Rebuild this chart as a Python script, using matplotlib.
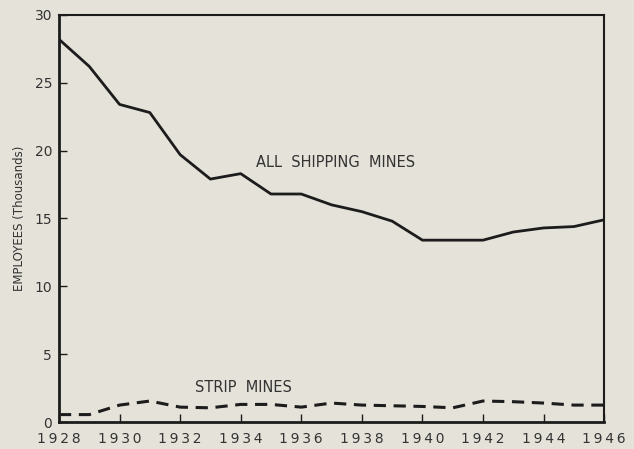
import matplotlib
matplotlib.use("Agg")
from matplotlib import pyplot as plt

# employees, thousands
years = list(range(1928, 1947))
all_shipping = [28.2, 26.2, 23.4, 22.8, 19.7, 17.9, 18.3, 16.8, 16.8, 16.0,
                15.5, 14.8, 13.4, 13.4, 13.4, 14.0, 14.3, 14.4, 14.9]
strip = [0.55, 0.55, 1.25, 1.55, 1.1, 1.05, 1.3, 1.3, 1.1, 1.4,
         1.25, 1.2, 1.15, 1.05, 1.55, 1.5, 1.4, 1.25, 1.25]

xtick_years = list(range(1928, 1947, 2))
yticks = [0, 5, 10, 15, 20, 25, 30]

bg = "#e5e2d9"
ink = "#1c1c1c"

plt.rcParams['font.family'] = ['DejaVu Sans']
fig = plt.figure(figsize=(6.34, 4.49), dpi=100, facecolor=bg)
ax = fig.add_axes([0.093, 0.060, 0.860, 0.907], facecolor=bg)

ax.plot(years, all_shipping, color=ink, lw=2.0, solid_joinstyle='round')
ax.plot(years, strip, color=ink, lw=2.2, dashes=(4, 2.5))

ax.set_xlim(1928, 1946)
ax.set_ylim(0, 30)
ax.set_xticks(xtick_years)
ax.set_xticklabels(["\u2009".join(str(y)) for y in xtick_years])
ax.set_yticks(yticks)
ax.set_yticklabels([str(v) for v in yticks])
ax.tick_params(axis='both', direction='in', length=6, width=1, colors=ink,
               labelsize=10, labelcolor="#333333")
ax.tick_params(axis='x', pad=7)
ax.tick_params(axis='y', pad=5)

for side in ['left', 'bottom']:
    ax.spines[side].set_linewidth(2.0)
for side in ['top', 'right']:
    ax.spines[side].set_linewidth(1.5)
for s in ax.spines.values():
    s.set_color(ink)

ax.set_ylabel("EMPLOYEES (Thousands)", fontsize=8.5, color="#333333", labelpad=6)

ax.text(1934.5, 18.8, "ALL  SHIPPING  MINES", fontsize=10.5, color="#333333")
ax.text(1932.5, 2.2, "STRIP  MINES", fontsize=10.5, color="#333333")

fig.savefig("out.png", dpi=100, facecolor=bg)
